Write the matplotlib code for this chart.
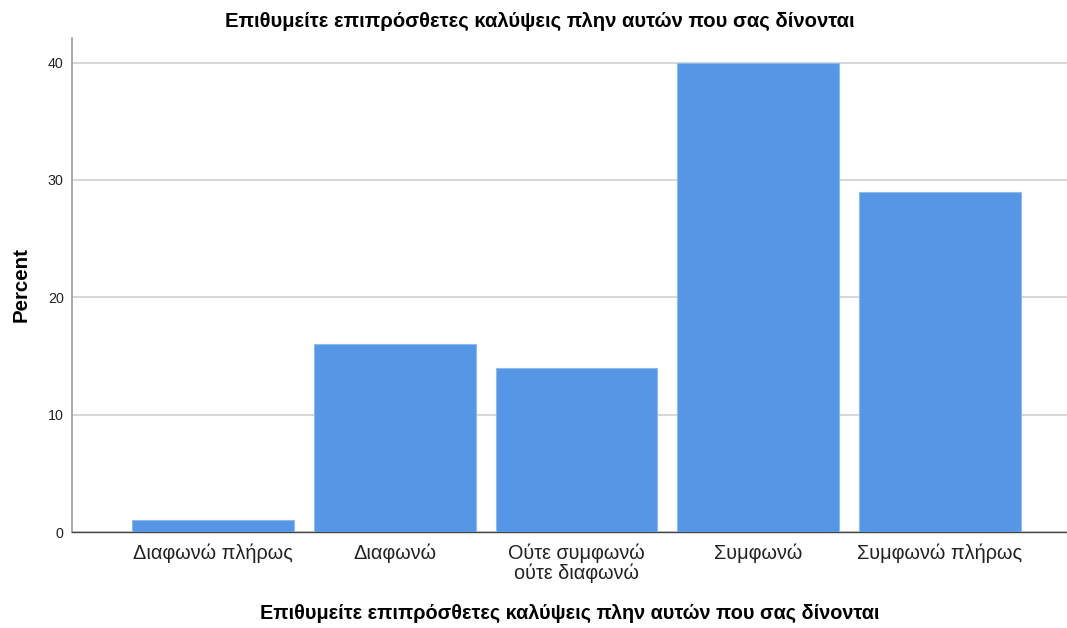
import matplotlib
matplotlib.use("Agg")
import matplotlib.pyplot as plt

categories = ["Διαφωνώ πλήρως", "Διαφωνώ", "Ούτε συμφωνώ\nούτε διαφωνώ", "Συμφωνώ", "Συμφωνώ πλήρως"]
percent = [1, 16, 14, 40, 29]
yticks = [0, 10, 20, 30, 40]
title = "Επιθυμείτε επιπρόσθετες καλύψεις πλην αυτών που σας δίνονται"

plt.rcParams["font.family"] = ["Liberation Sans", "DejaVu Sans"]

fig = plt.figure(figsize=(10.67, 6.28), dpi=100)
ax = fig.add_axes([72 / 1067, 96 / 628, 995 / 1067, 494 / 628])

x = range(len(categories))
ax.bar(x, percent, width=0.89, color="#5596E5", edgecolor="#8DBBF0", linewidth=0.8, zorder=3)

ax.set_xlim(-0.777, 4.70)
ax.set_ylim(0, 42.1)
ax.set_yticks(yticks)
ax.set_xticks(list(x))
ax.set_xticklabels(categories, fontsize=14.3, color="#222222", linespacing=1.05)
ax.tick_params(axis="y", length=0, labelsize=10.3, pad=6, colors="#222222")
ax.tick_params(axis="x", length=0, pad=8)

ax.grid(axis="y", color="#cfcfcf", linewidth=1.2, zorder=0)
ax.set_axisbelow(True)

for side in ("top", "right"):
    ax.spines[side].set_visible(False)
ax.spines["left"].set_color("#999999")
ax.spines["left"].set_linewidth(1.2)
ax.spines["bottom"].set_color("#444444")
ax.spines["bottom"].set_linewidth(1.0)

ax.set_ylabel("Percent", fontsize=14.8, fontweight="bold", labelpad=12)
ax.set_xlabel(title, fontsize=14.3, fontweight="bold", labelpad=15)
fig.text(540 / 1067, 1 - 21 / 628, title, fontsize=14.6, fontweight="bold", ha="center", va="center")

fig.savefig("out.png", dpi=100)
